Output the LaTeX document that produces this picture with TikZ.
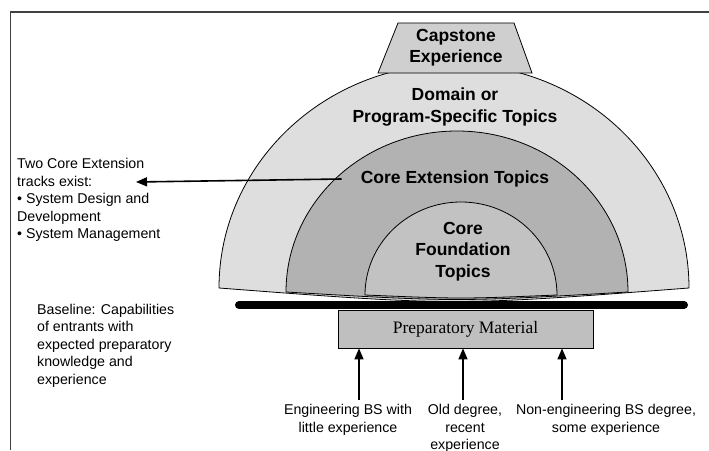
\documentclass[tikz,border=0pt]{standalone}
\usepackage{fontspec}
\setmainfont{Liberation Sans}
\newfontfamily\prepfont{Liberation Serif}
\usetikzlibrary{arrows.meta}
\definecolor{domaingray}{gray}{0.87}
\definecolor{extgray}{gray}{0.70}
\definecolor{fndgray}{gray}{0.76}
\definecolor{capgray}{gray}{0.81}
\definecolor{prepgray}{gray}{0.75}
\definecolor{framegray}{gray}{0.25}
\begin{document}
\begin{tikzpicture}[x=1pt, y=1pt,
	  bold/.style={font=\fontsize{17.5}{21.5}\selectfont\bfseries, align=center, inner sep=0pt},
	  plain/.style={font=\fontsize{14.2}{17.5}\selectfont, inner sep=0pt},
	  tip/.style={-{Triangle[length=11pt, width=9pt]}, line width=1.6pt}]
	  \useasboundingbox (0,0) rectangle (709,450);
	  \draw[framegray, line width=1.5pt] (709,438) -- (10.5,438) -- (10.5,0);
	  % domes, outer to inner
	  \filldraw[fill=domaingray, thick] (219,162) arc[start angle=180, end angle=0, x radius=235, y radius=224] .. controls (454,144) .. cycle;
	  \filldraw[fill=extgray, thick] (286,158) arc[start angle=180, end angle=0, x radius=171, y radius=161] .. controls (457,148) .. cycle;
	  \filldraw[fill=fndgray, thick] (365,155) arc[start angle=180, end angle=0, x radius=96, y radius=93] .. controls (461,151) .. cycle;
	  \filldraw[fill=capgray, thick] (378,377) -- (398,427) -- (514,427) -- (532,377) -- cycle;
	  \draw[line width=8pt, line cap=round] (239,145) -- (684,145);
	  \node[draw, thick, fill=prepgray, minimum width=255, minimum height=38, font=\prepfont\fontsize{17.5}{20}\selectfont] (prep) at (465.5,121) {Preparatory Material};
	  % labels
	  \node[bold] (cap) at (456,402.5) {Capstone\\Experience};
	  \node[bold] (dom) at (455,343) {Domain or\\Program-Specific Topics};
	  \node[bold] (ext) at (455,271) {Core Extension Topics};
	  \node[bold] (fnd) at (463,198.5) {Core\\Foundation\\Topics};
	  \node[plain, align=left, anchor=north west] (trk) at (17,291.5) {Two Core Extension\\tracks exist:\\\textbullet{} System Design and\\Development\\\textbullet{} System Management};
	  \node[plain, align=left, anchor=north west] (base) at (37,146) {Baseline: Capabilities\\of entrants with\\expected preparatory\\knowledge and\\experience};
	  \node[plain, align=center, anchor=north] (eng) at (348,45.5) {Engineering BS with\\little experience};
	  \node[plain, align=center, anchor=north] (old) at (465,45.5) {Old degree,\\recent\\experience};
	  \node[plain, align=center, anchor=north] (non) at (606,45.5) {Non-engineering BS degree,\\some experience};
	  % arrows
	  \coordinate (trkend) at (136,268);
	  \draw[tip] ([xshift=-19pt]ext.west) -- (trkend);
	  \coordinate (engtail) at (359,50);
	  \coordinate (oldtail) at (463,50);
	  \coordinate (nontail) at (562,50);
	  \draw[tip] (engtail) -- (engtail |- prep.south);
	  \draw[tip] (oldtail) -- (oldtail |- prep.south);
	  \draw[tip] (nontail) -- (nontail |- prep.south);
	\end{tikzpicture}
\end{document}
